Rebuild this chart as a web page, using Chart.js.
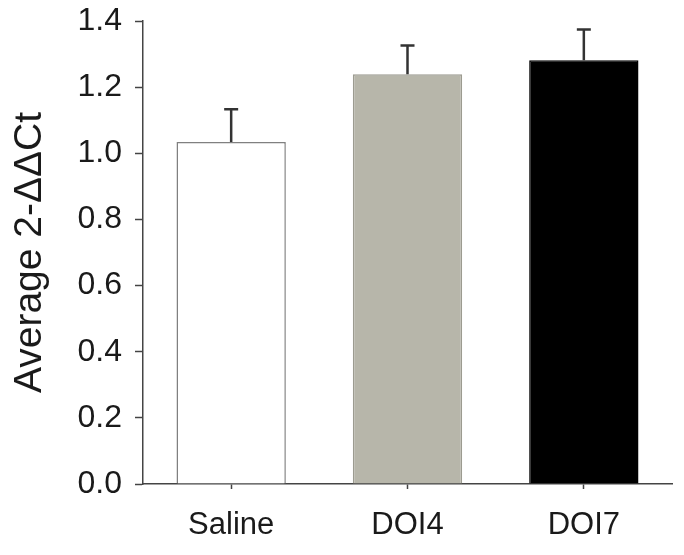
<!DOCTYPE html>
<html>
<head>
<meta charset="utf-8">
<script src="https://cdn.jsdelivr.net/npm/chart.js@4.4.1/dist/chart.umd.min.js"></script>
<style>
  html, body { margin: 0; padding: 0; background: #fff; }
  #wrap { width: 684px; height: 555px; }
</style>
</head>
<body>
<div id="wrap"><canvas id="chart" width="684" height="555"></canvas></div>
<script>
const groups = ["Saline", "DOI4", "DOI7"];
const means = [1.034, 1.239, 1.281];
const errors = [0.099, 0.087, 0.093];
const yTicks = [0.0, 0.2, 0.4, 0.6, 0.8, 1.0, 1.2, 1.4];

const fills = ["#ffffff", "#b7b6aa", "#000000"];
const borders = ["#808080", "#9c9b90", "#000000"];

// upward-only error bars with a short cap
const errorBars = {
  id: "errorBars",
  afterDatasetsDraw(chart) {
    const { ctx, scales } = chart;
    const meta = chart.getDatasetMeta(0);
    ctx.save();
    ctx.strokeStyle = "#333";
    ctx.lineWidth = 2.5;
    meta.data.forEach((bar, i) => {
      const x = bar.x;
      const yTop = scales.y.getPixelForValue(means[i]);
      const yErr = scales.y.getPixelForValue(means[i] + errors[i]);
      ctx.beginPath();
      ctx.moveTo(x, yTop);
      ctx.lineTo(x, yErr);
      ctx.moveTo(x - 7, yErr);
      ctx.lineTo(x + 7, yErr);
      ctx.stroke();
    });
    ctx.restore();
  },
};

const font = "'Liberation Sans', Arial, sans-serif";

new Chart(document.getElementById("chart"), {
  type: "bar",
  data: {
    labels: groups,
    datasets: [
      {
        data: means,
        backgroundColor: fills,
        borderColor: borders,
        borderWidth: 1.5,
        borderSkipped: "bottom",
        barPercentage: 0.62,
        categoryPercentage: 1.0,
      },
    ],
  },
  options: {
    responsive: false,
    animation: false,
    layout: { padding: { left: 0, right: 12, top: 21, bottom: 0 } },
    plugins: {
      legend: { display: false },
      tooltip: { enabled: false },
    },
    scales: {
      x: {
        grid: {
          offset: false,
          drawOnChartArea: false,
          drawTicks: true,
          tickLength: 5,
          tickColor: "#444",
          tickWidth: 1.5,
        },
        border: { display: true, color: "#444", width: 1.5 },
        ticks: {
          color: "#1a1a1a",
          font: { family: font, size: 31 },
          padding: 18,
        },
        afterFit(scale) {
          scale.height = 71;
          scale.paddingLeft = 0;
          scale.paddingRight = 0;
        },
      },
      y: {
        min: 0,
        max: 1.4,
        afterBuildTicks(scale) {
          scale.ticks = yTicks.map((v) => ({ value: v }));
        },
        grid: {
          drawOnChartArea: false,
          drawTicks: true,
          tickLength: 8,
          tickColor: "#444",
          tickWidth: 1.5,
        },
        border: { display: true, color: "#444", width: 1.5 },
        ticks: {
          color: "#1a1a1a",
          font: { family: font, size: 32 },
          padding: 13,
          callback: (v) => Number(v).toFixed(1),
        },
        title: {
          display: true,
          text: "Average 2-ΔΔCt",
          color: "#1a1a1a",
          font: { family: font, size: 39 },
          padding: { top: 7, bottom: 0 },
        },
        afterFit(scale) {
          scale.width = 143;
          scale.paddingTop = 0;
          scale.paddingBottom = 0;
        },
      },
    },
  },
  plugins: [errorBars],
});
</script>
</body>
</html>
